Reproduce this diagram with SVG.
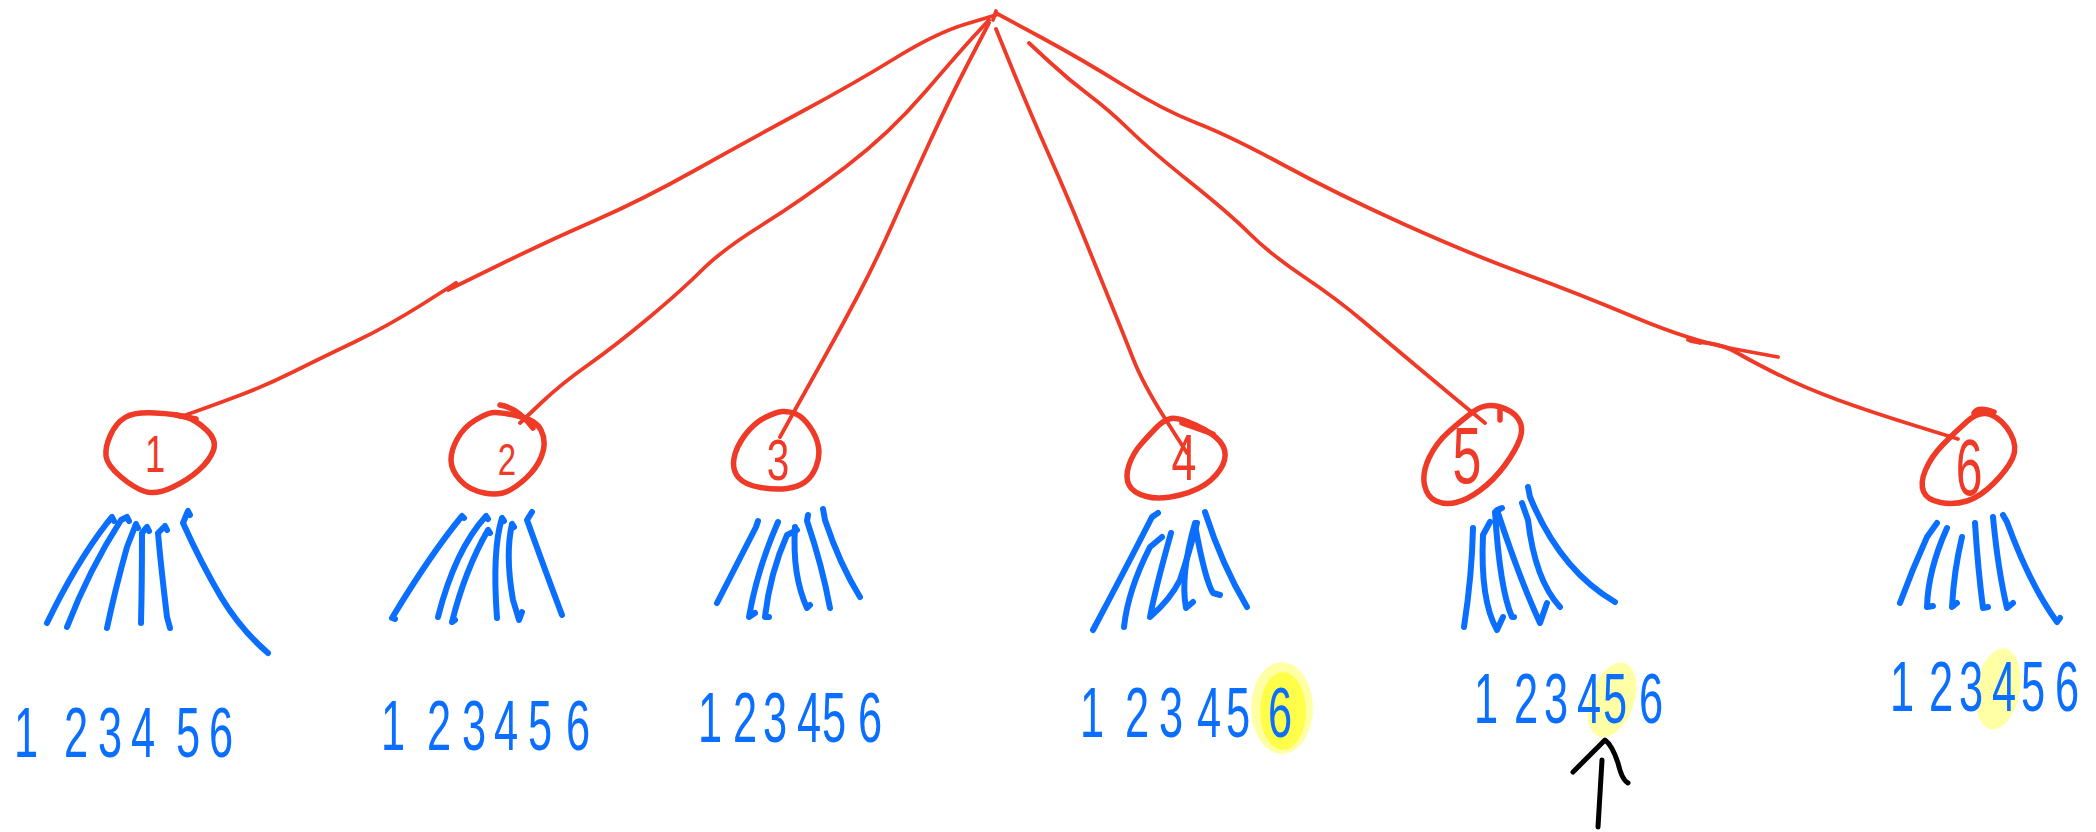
<svg xmlns="http://www.w3.org/2000/svg" width="2096" height="832" viewBox="0 0 2096 832">
<style>
.conn{fill:none;stroke:#ee3a26;stroke-width:3.8;stroke-linecap:round;stroke-linejoin:round}
.circ{fill:none;stroke:#ee3a26;stroke-width:5.5;stroke-linecap:round;stroke-linejoin:round}
.br{fill:none;stroke:#0a6eff;stroke-width:6;stroke-linecap:round;stroke-linejoin:round}
.rd{font-family:"Liberation Sans",Arial,sans-serif;fill:#ee3a26;text-anchor:middle}
.bd{font-family:"Liberation Sans",Arial,sans-serif;fill:#0a6eff;text-anchor:middle;font-size:70px}
.hl{fill:#ffff9c;opacity:0.9}
.hl2{fill:#ffff4a}
.arr{fill:none;stroke:#000;stroke-width:5;stroke-linecap:round;stroke-linejoin:round}
</style>
<rect width="2096" height="832" fill="#ffffff"/>
<g id="connectors">
<path class="conn" d="M996,15 L966,24 Q936,33 895.5,58 Q855,83 802,111.5 Q749,140 695.5,170 Q642,200 595,220.5 Q548,241 498,265.5 L448,290 L456,283"/>
<path class="conn" d="M456,283 L422,304.5 Q388,326 354.5,342 Q321,358 294,371.5 Q267,385 240.5,395 Q214,405 197,411 L180,417"/>
<path class="conn" d="M989,20 L975.5,34.5 Q962,49 925.5,91.5 Q889,134 845.5,167 Q802,200 762,225 Q722,250 702,270 Q682,290 648.5,318 Q615,346 588,365 Q561,384 540.5,403.5 L520,423"/>
<path class="conn" d="M989,23 L969,61.5 Q949,100 929,143.5 Q909,187 892.5,224 Q876,261 859,293.5 Q842,326 824,358 Q806,390 793,413.5 L780,437"/>
<path class="conn" d="M996,29 L1012.5,69.5 Q1029,110 1049,155 Q1069,200 1082.5,233.5 Q1096,267 1109.5,300 Q1123,333 1133,358.5 Q1143,384 1165,418.5 L1187,453"/>
<path class="conn" d="M1029,43 L1049,61.5 Q1069,80 1089,95 Q1109,110 1129.5,130 Q1150,150 1190,182 Q1230,214 1250,234 Q1270,254 1303.5,276.5 Q1337,299 1363.5,321.5 Q1390,344 1423.5,372 Q1457,400 1471,411.5 L1485,423"/>
<path class="conn" d="M996,13 L1039.5,36.5 Q1083,60 1123,85 Q1163,110 1196.5,123 Q1230,136 1283.5,165 Q1337,194 1403.5,224 Q1470,254 1523.5,273.5 Q1577,293 1634,317 Q1691,341 1734.5,349 L1778,357"/>
<path class="conn" d="M1691,341 L1707.5,343 Q1724,345 1737.5,353 Q1751,361 1778,374.5 Q1805,388 1838,400 Q1871,412 1914.5,425.5 L1958,439"/>
<path class="conn" d="M1688,340 L1700,343" stroke-width="7"/>
<path class="conn" d="M996,11 L993,20"/>
</g>
<g id="node-1">
<path class="circ" d="M155,413 Q176,414 186,417 Q196,420 206.5,430 Q217,440 213.5,450 Q210,460 199,470 Q188,480 172,487.5 Q156,495 145,491.5 Q134,488 120.5,476.5 Q107,465 106,456 Q105,447 110.5,435 Q116,423 125,417.5 Q134,412 155,413 Z"/>
<path class="circ" d="M176,415 L196,419" stroke-width="8"/>
<text class="rd" font-size="52" transform="translate(155,472) scale(0.7,1)">1</text>
</g>
<g id="node-2">
<path class="circ" d="M518,416 Q536,420 541,430 Q546,440 543,451.5 Q540,463 531,473 Q522,483 511,489.5 Q500,496 484.5,493 Q469,490 460,480 Q451,470 451,460 Q451,450 457.5,438.5 Q464,427 475.5,420 Q487,413 493.5,412.5 Q500,412 518,416 Z"/>
<path class="circ" d="M500,405 Q518,408 533,428"/>
<text class="rd" font-size="44" transform="translate(507,475) scale(0.75,1)">2</text>
</g>
<g id="node-3">
<path class="circ" d="M796,414 Q803,417 810,427 Q817,437 818.5,447 Q820,457 816,467 Q812,477 805,482 Q798,487 787,488.5 Q776,490 760.5,487.5 Q745,485 738.5,477.5 Q732,470 734,458.5 Q736,447 745,435 Q754,423 765,417.5 Q776,412 782.5,411.5 Q789,411 796,414 Z"/>
<text class="rd" font-size="58" transform="translate(778,480) scale(0.7,1)">3</text>
</g>
<g id="node-4">
<path class="circ" d="M1195.5,425 Q1213,433 1220,441.5 Q1227,450 1224.5,460 Q1222,470 1211,480 Q1200,490 1180,495 Q1160,500 1146.5,496.5 Q1133,493 1129,485 Q1125,477 1129,465 Q1133,453 1142,443 Q1151,433 1157.5,426.5 Q1164,420 1171,418.5 Q1178,417 1195.5,425 Z"/>
<path class="circ" d="M1182,423 L1213,434" stroke-width="8"/>
<text class="rd" font-size="64" transform="translate(1184,480) scale(0.7,1)">4</text>
</g>
<g id="node-5">
<path class="circ" d="M1498.5,406.5 Q1512,410 1518,418.5 Q1524,427 1520,438.5 Q1516,450 1505,465 Q1494,480 1480.5,490 Q1467,500 1456,502.5 Q1445,505 1436,501 Q1427,497 1424.5,485 Q1422,473 1429,458 Q1436,443 1449,431.5 Q1462,420 1473.5,411.5 Q1485,403 1498.5,406.5 Z"/>
<path class="circ" d="M1500,410 L1500,420"/>
<text class="rd" font-size="80" transform="translate(1467,483) scale(0.65,1)">5</text>
</g>
<g id="node-6">
<path class="circ" d="M1991.5,415 Q2003,420 2010.5,433.5 Q2018,447 2012.5,458.5 Q2007,470 1993.5,483.5 Q1980,497 1967,501 Q1954,505 1940.5,502.5 Q1927,500 1923.5,491.5 Q1920,483 1925.5,470 Q1931,457 1942.5,445 Q1954,433 1967,421.5 Q1980,410 1991.5,415 Z"/>
<path class="circ" d="M1974,413 Q1978,406 1994,412"/>
<text class="rd" font-size="80" transform="translate(1969,495) scale(0.6,1)">6</text>
</g>
<g id="branches-1">
<path class="br" d="M114,521 L112,517 L107,523 Q76,563 47,623"/>
<path class="br" d="M129,521 L127,517 L121,520 Q89,570 67,627"/>
<path class="br" d="M138,528 L136,524 L127,547 Q115,590 107,628"/>
<path class="br" d="M149,531 L147,527 L142,533 Q142,583 141,623"/>
<path class="br" d="M167,530 L165,526 L158,533 Q161,567 167,617 L170,628"/>
<path class="br" d="M190,515 L188,511 L183,523 Q201,563 221,597 Q241,630 268,653"/>
</g>
<g id="branches-2">
<path class="br" d="M464,518 L462,516 Q430,555 392,618 L395,619"/>
<path class="br" d="M488,519 L486,516 Q455,550 438,617"/>
<path class="br" d="M490,533 L488,530 Q465,570 452,622 L455,620"/>
<path class="br" d="M504,521 L502,518 Q492,550 497,618"/>
<path class="br" d="M514,527 L512,524 Q505,555 513,600 L519,620 L522,612"/>
<path class="br" d="M532,512 L527,520 Q545,570 562,615"/>
</g>
<g id="branches-3">
<path class="br" d="M758,521 L756,527 Q740,558 717,603"/>
<path class="br" d="M778,522 Q757,570 749,617 L755,613"/>
<path class="br" d="M797,530 L787,535 Q770,573 765,617 L769,617"/>
<path class="br" d="M795,527 Q792,575 807,608 L810,605"/>
<path class="br" d="M808,515 L807,521 Q822,565 830,608"/>
<path class="br" d="M823,509 L825,520 Q840,565 860,597"/>
</g>
<g id="branches-4">
<path class="br" d="M1158,513 L1152,517 Q1125,570 1093,630"/>
<path class="br" d="M1162,537 L1150,547 Q1128,590 1124,627"/>
<path class="br" d="M1171,533 Q1155,590 1150,617 Q1170,600 1180,580 Q1190,550 1197,523"/>
<path class="br" d="M1195,523 Q1180,575 1186,608 L1193,602"/>
<path class="br" d="M1195,525 Q1205,580 1213,593 L1220,595"/>
<path class="br" d="M1205,512 Q1222,565 1247,607"/>
</g>
<g id="branches-5">
<path class="br" d="M1473,528 Q1472,575 1464,627"/>
<path class="br" d="M1490,522 L1483,535 Q1480,600 1497,630 L1503,617"/>
<path class="br" d="M1500,509 L1495,512 Q1500,590 1512,617 L1514,617"/>
<path class="br" d="M1502,508 L1497,510 Q1520,580 1540,623 L1547,603"/>
<path class="br" d="M1522,503 L1528,520 Q1535,580 1560,607"/>
<path class="br" d="M1528,487 L1530,497 Q1560,570 1615,602"/>
</g>
<g id="branches-6">
<path class="br" d="M1937,523 L1927,537 Q1912,570 1900,603"/>
<path class="br" d="M1947,528 Q1928,570 1927,607 L1933,606"/>
<path class="br" d="M1962,537 Q1954,570 1952,607 L1957,603"/>
<path class="br" d="M1975,523 Q1978,570 1983,608 L1988,607"/>
<path class="br" d="M1993,517 Q1998,570 2007,608 L2013,603"/>
<path class="br" d="M2003,515 L2007,522 Q2030,585 2057,622 L2060,618"/>
</g>
<g id="highlights">
<ellipse class="hl" cx="1282" cy="708" rx="31" ry="46"/>
<ellipse class="hl2" cx="1283" cy="711" rx="23" ry="39"/>
<ellipse class="hl" cx="1612" cy="700" rx="22" ry="39" transform="rotate(20 1612 700)"/>
<ellipse class="hl" cx="1998" cy="689" rx="22" ry="41" transform="rotate(10 1998 689)"/>
</g>
<g id="leaves-1">
<text class="bd" transform="translate(26,757) scale(0.62,1)">1</text>
<text class="bd" transform="translate(76,757) scale(0.62,1)">2</text>
<text class="bd" transform="translate(110,757) scale(0.62,1)">3</text>
<text class="bd" transform="translate(143,757) scale(0.62,1)">4</text>
<text class="bd" transform="translate(188,757) scale(0.62,1)">5</text>
<text class="bd" transform="translate(221,757) scale(0.62,1)">6</text>
</g>
<g id="leaves-2">
<text class="bd" transform="translate(393,750) scale(0.62,1)">1</text>
<text class="bd" transform="translate(439,750) scale(0.62,1)">2</text>
<text class="bd" transform="translate(474,750) scale(0.62,1)">3</text>
<text class="bd" transform="translate(506,750) scale(0.62,1)">4</text>
<text class="bd" transform="translate(540,750) scale(0.62,1)">5</text>
<text class="bd" transform="translate(578,750) scale(0.62,1)">6</text>
</g>
<g id="leaves-3">
<text class="bd" transform="translate(710,742) scale(0.62,1)">1</text>
<text class="bd" transform="translate(745,742) scale(0.62,1)">2</text>
<text class="bd" transform="translate(775,742) scale(0.62,1)">3</text>
<text class="bd" transform="translate(809,742) scale(0.62,1)">4</text>
<text class="bd" transform="translate(834,742) scale(0.62,1)">5</text>
<text class="bd" transform="translate(870,742) scale(0.62,1)">6</text>
</g>
<g id="leaves-4">
<text class="bd" transform="translate(1092,737) scale(0.62,1)">1</text>
<text class="bd" transform="translate(1137,737) scale(0.62,1)">2</text>
<text class="bd" transform="translate(1171,737) scale(0.62,1)">3</text>
<text class="bd" transform="translate(1209,737) scale(0.62,1)">4</text>
<text class="bd" transform="translate(1238,737) scale(0.62,1)">5</text>
<text class="bd" transform="translate(1280,737) scale(0.62,1)">6</text>
</g>
<g id="leaves-5">
<text class="bd" transform="translate(1486,723) scale(0.62,1)">1</text>
<text class="bd" transform="translate(1526,723) scale(0.62,1)">2</text>
<text class="bd" transform="translate(1556,723) scale(0.62,1)">3</text>
<text class="bd" transform="translate(1589,723) scale(0.62,1)">4</text>
<text class="bd" transform="translate(1615,723) scale(0.62,1)">5</text>
<text class="bd" transform="translate(1651,723) scale(0.62,1)">6</text>
</g>
<g id="leaves-6">
<text class="bd" transform="translate(1902,711) scale(0.62,1)">1</text>
<text class="bd" transform="translate(1941,711) scale(0.62,1)">2</text>
<text class="bd" transform="translate(1971,711) scale(0.62,1)">3</text>
<text class="bd" transform="translate(2004,711) scale(0.62,1)">4</text>
<text class="bd" transform="translate(2033,711) scale(0.62,1)">5</text>
<text class="bd" transform="translate(2067,711) scale(0.62,1)">6</text>
</g>
<g id="pointer">
<path class="arr" d="M1573,772 L1605,740 Q1612,745 1618,763 Q1622,780 1628,783"/>
<path class="arr" d="M1602,760 L1598,827"/>
</g>
</svg>
